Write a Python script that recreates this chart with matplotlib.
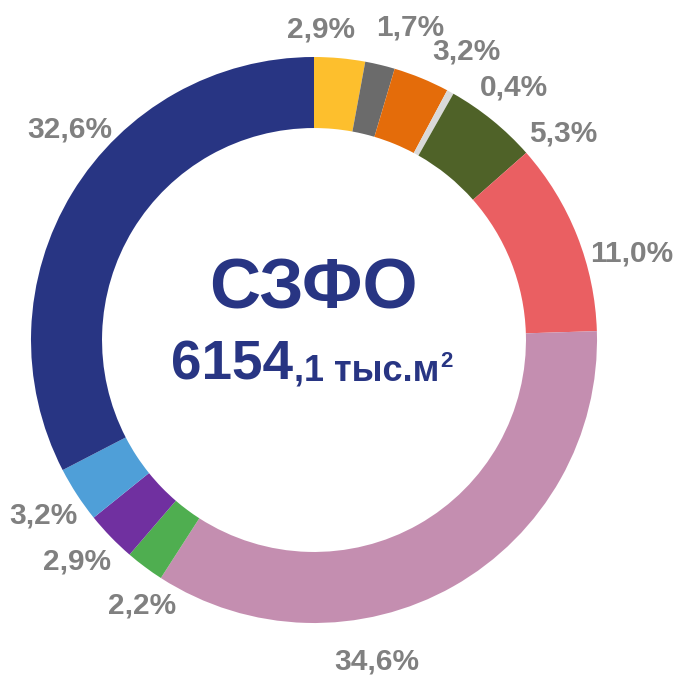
import matplotlib
matplotlib.use("Agg")
import matplotlib.pyplot as plt

# shares, clockwise from 12 o'clock
shares = [2.9, 1.7, 3.2, 0.4, 5.3, 11.0, 34.6, 2.2, 2.9, 3.2, 32.6]
colors = ["#FDBF2D", "#6B6B6B", "#E46C0A", "#D9D9D9", "#4F6228", "#EA5F62",
          "#C48EB0", "#4FAE50", "#7030A0", "#4F9FD8", "#283583"]
labels = [f"{v:.1f}%".replace(".", ",") for v in shares]

title = "СЗФО"
total_main = "6154"
total_rest = ",1 тыс.м"
total_sup = "2"

# label centres in pixels (moved by hand in the original)
label_px = [(321, 30), (410, 28), (466, 52), (514, 88), (563, 133), (632, 253),
            (377, 661), (142, 606), (77, 562), (43, 516), (70, 129)]

W, H = 677, 676
cx, cy, R = 314, 340, 283

plt.rcParams["font.family"] = ["Liberation Sans", "DejaVu Sans"]
fig = plt.figure(figsize=(W / 100, H / 100), dpi=100)
ax = fig.add_axes([0, 0, 1, 1])
ax.pie(shares, colors=colors, startangle=90, counterclock=False, radius=1,
       wedgeprops=dict(width=0.251, linewidth=0))
ax.set_xlim(-cx / R, (W - cx) / R)
ax.set_ylim(-(H - cy) / R, cy / R)
ax.set_aspect("auto")
ax.axis("off")

for lab, (px, py) in zip(labels, label_px):
    fig.text(px / W, 1 - py / H, lab, ha="center", va="center",
             fontsize=21.5, fontweight="bold", color="#808080")

navy = "#283583"
fig.text(313 / W, 1 - 290 / H, title, ha="center", va="center",
         fontsize=51, fontweight="bold", color=navy)

# total line: big integer part, smaller rest, superscript 2
r = fig.canvas.get_renderer()
t1 = fig.text(171 / W, 1 - 380 / H, total_main, ha="left", va="baseline",
              fontsize=39.5, fontweight="bold", color=navy)
x = t1.get_window_extent(r).x1 + 1
t2 = fig.text(x / W, 1 - 380 / H, total_rest, ha="left", va="baseline",
              fontsize=26, fontweight="bold", color=navy)
x = t2.get_window_extent(r).x1 + 1
fig.text(x / W, 1 - 367 / H, total_sup, ha="left", va="baseline",
         fontsize=16, fontweight="bold", color=navy)

fig.savefig("out.png", dpi=100)
